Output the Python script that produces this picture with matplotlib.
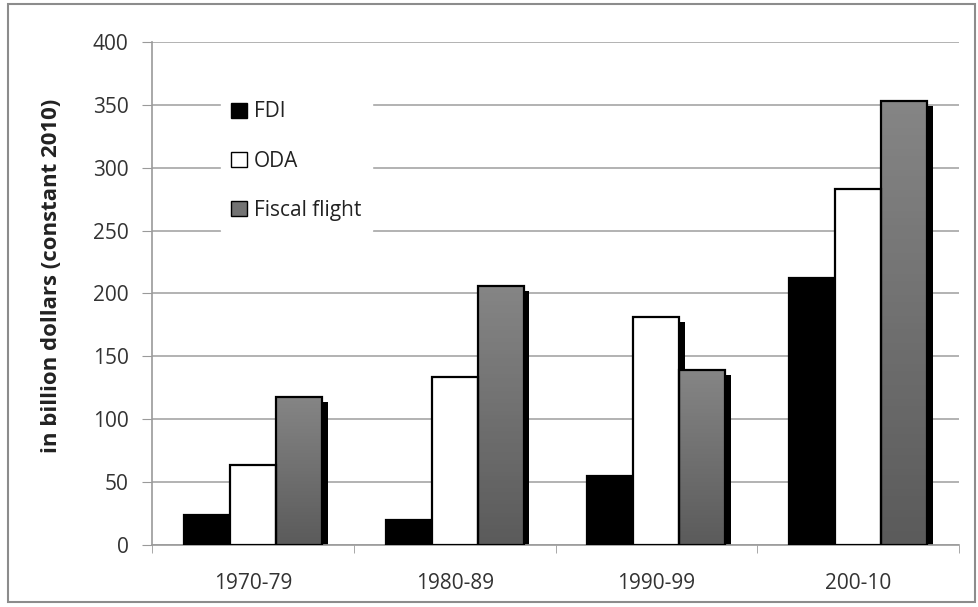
import numpy as np
import matplotlib
matplotlib.use("Agg")
import matplotlib.pyplot as plt
import matplotlib.patheffects as pe
from matplotlib.patches import Rectangle
from matplotlib.colors import LinearSegmentedColormap

periods = ["1970-79", "1980-89", "1990-99", "200-10"]
fdi = [24, 20, 55, 212]
oda = [64, 134, 181, 283]
fiscal_flight = [118, 206, 139, 353]

series_names = ["FDI", "ODA", "Fiscal flight"]
series_colors = ["#000000", "#ffffff", "#737373"]

plt.rcParams["font.family"] = ["Open Sans", "DejaVu Sans"]

fig = plt.figure(figsize=(9.79, 6.07), dpi=100)
ax = fig.add_axes([0.1555, 0.102, 0.824, 0.829])

x = np.arange(len(periods))
width = 0.228
shadow = [pe.SimplePatchShadow(offset=(4, -3.6), shadow_rgbFace="black", alpha=1.0)]
grey_grad = LinearSegmentedColormap.from_list("gg", ["#5b5b5b", "#858585"])

for i, (vals, name, color) in enumerate(zip([fdi, oda, fiscal_flight], series_names, series_colors)):
    pos = x + (i - 1) * width
    # black drop shadow behind the bars
    sh = ax.bar(pos, vals, width, color="black", linewidth=0, zorder=2.5)
    for b in sh:
        b.set_path_effects(shadow)
    if name == "Fiscal flight":
        bars = ax.bar(pos, vals, width, facecolor="none", edgecolor="black",
                      linewidth=1.6, zorder=3.5)
        for b, p, v in zip(bars, pos, vals):
            im = ax.imshow(np.linspace(0, 1, 64).reshape(-1, 1), cmap=grey_grad, origin="lower",
                           extent=[p - width / 2, p + width / 2, 0, v], aspect="auto", zorder=3)
            im.set_clip_path(b)
        ax.bar([0], [0], 0, color=color, edgecolor="black", label=name)
    else:
        ax.bar(pos, vals, width, color=color, edgecolor="black",
               linewidth=1.6, label=name, zorder=3.5)

ax.set_xlim(-0.5, 3.5)
ax.set_ylim(0, 400)
ax.set_yticks(np.arange(0, 401, 50))
ax.set_xticks(x)
ax.set_xticklabels(periods)
ax.set_xticks(np.arange(-0.5, 3.6, 1), minor=True)
ax.tick_params(axis="x", which="major", length=0, pad=20, labelsize=15, colors="#333333")
ax.tick_params(axis="x", which="minor", length=6, color="#9a9a9a", direction="out")
ax.tick_params(axis="y", length=7, color="#9a9a9a", labelsize=15, labelcolor="#333333", pad=10)
ax.yaxis.grid(True, color="#a6a6a6", linewidth=1.2, zorder=0)
ax.set_axisbelow(True)
for s in ["top", "right"]:
    ax.spines[s].set_visible(False)
for s in ["left", "bottom"]:
    ax.spines[s].set_color("#9a9a9a")
    ax.spines[s].set_linewidth(1.2)

ax.set_ylabel("in billion dollars (constant 2010)", fontsize=16, fontweight="bold",
              color="#222222")
ax.yaxis.set_label_coords(-0.112, 0.535)

leg = ax.legend(loc="upper left", bbox_to_anchor=(0.072, 0.923), frameon=True, fancybox=False,
                edgecolor="white", facecolor="white", framealpha=1.0,
                handlelength=0.75, handleheight=0.75, handletextpad=0.35,
                labelspacing=1.35, fontsize=15, borderpad=0.5)
for t in leg.get_texts():
    t.set_color("#222222")
for h in leg.legend_handles:
    h.set_linewidth(1.0)

fig.patches.append(Rectangle((0.008, 0.008), 0.988, 0.985, transform=fig.transFigure,
                             fill=False, edgecolor="#8c8c8c", linewidth=1.5))

fig.savefig("out.png", dpi=100)
